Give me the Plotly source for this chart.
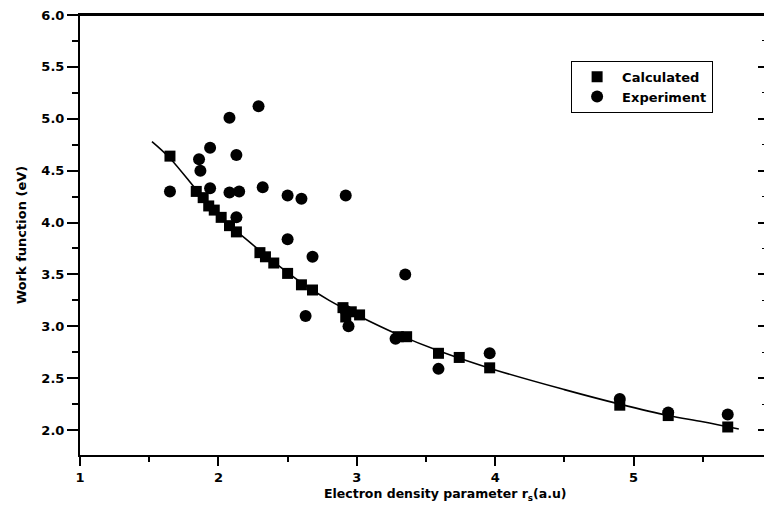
import plotly.graph_objects as go

# Calculated work function (squares)
calc_rs = [1.65, 1.84, 1.89, 1.93, 1.97, 2.02, 2.08, 2.13, 2.30, 2.34, 2.40, 2.50, 2.60,
           2.68, 2.90, 2.92, 2.96, 3.02, 3.30, 3.36, 3.59, 3.74, 3.96, 4.90, 5.25, 5.68]
calc_wf = [4.64, 4.30, 4.24, 4.16, 4.12, 4.05, 3.97, 3.91, 3.71, 3.67, 3.61, 3.51, 3.40,
           3.35, 3.18, 3.09, 3.14, 3.11, 2.90, 2.90, 2.74, 2.70, 2.60, 2.24, 2.14, 2.03]

# Experimental work function (circles)
exp_rs = [1.65, 1.86, 1.87, 1.94, 1.94, 2.08, 2.08, 2.15, 2.13, 2.13, 2.29, 2.32, 2.50,
          2.60, 2.50, 2.68, 2.63, 2.94, 2.92, 2.92, 3.35, 3.28, 3.59, 3.96, 4.90, 5.25, 5.68]
exp_wf = [4.30, 4.61, 4.50, 4.72, 4.33, 5.01, 4.29, 4.30, 4.65, 4.05, 5.12, 4.34, 4.26,
          4.23, 3.84, 3.67, 3.10, 3.00, 3.15, 4.26, 3.50, 2.88, 2.59, 2.74, 2.30, 2.17, 2.15]

# Fitted curve
fit_rs = [1.52, 1.65, 1.85, 2.00, 2.20, 2.40, 2.60, 2.80, 3.00, 3.30, 3.60, 4.00, 4.50,
          4.90, 5.25, 5.50, 5.76]
fit_wf = [4.78, 4.62, 4.30, 4.07, 3.84, 3.62, 3.42, 3.25, 3.11, 2.92, 2.76, 2.58, 2.39,
          2.25, 2.14, 2.08, 2.01]

y_ticks = [2.0, 2.5, 3.0, 3.5, 4.0, 4.5, 5.0, 5.5, 6.0]
y_ticklabels = ["2.0", "2.5", "3.0", "3.5", "4.0", "4.5", "5.0", "5.5", "6.0"]
y_minor = [2.25, 2.75, 3.25, 3.75, 4.25, 4.75, 5.25, 5.75]
x_ticks = [1, 2, 3, 4, 5]
x_ticklabels = ["1", "2", "3", "4", "5"]
x_minor = [1.5, 2.5, 3.5, 4.5, 5.5]

x_title = "Electron density parameter r<sub>s</sub>(a.u)"
y_title = "Work function (eV)"

FONT = "DejaVu Sans, Arial, sans-serif"

fig = go.Figure()
fig.add_trace(go.Scatter(x=fit_rs, y=fit_wf, mode="lines",
                         line=dict(color="black", width=1.6, shape="spline"),
                         showlegend=False, hoverinfo="skip"))
fig.add_trace(go.Scatter(x=calc_rs, y=calc_wf, mode="markers", name="Calculated",
                         marker=dict(symbol="square", size=11, color="black")))
fig.add_trace(go.Scatter(x=exp_rs, y=exp_wf, mode="markers", name="Experiment",
                         marker=dict(symbol="circle", size=12, color="black")))
# empty trace to activate right axis
fig.add_trace(go.Scatter(x=[None], y=[None], yaxis="y2", showlegend=False))

fig.update_layout(
    width=756, height=498,
    margin=dict(l=72, r=0, t=7, b=51, autoexpand=False),
    paper_bgcolor="white", plot_bgcolor="white",
    font=dict(family=FONT, size=13, color="black", weight="bold"),
    showlegend=True,
    legend=dict(x=0.718, y=0.896, xanchor="left", yanchor="top",
                bordercolor="black", borderwidth=1, bgcolor="white",
                font=dict(family=FONT, size=13, color="black", weight="bold"),
                itemwidth=40, tracegroupgap=0),
    xaxis=dict(range=[1, 5.942], showgrid=False, zeroline=False,
               showline=True, linecolor="black", linewidth=2, mirror=True,
               ticks="outside", ticklen=9, tickwidth=2, tickcolor="black",
               tickmode="array", tickvals=x_ticks, ticktext=x_ticklabels,
               minor=dict(tickmode="array", tickvals=x_minor, ticks="outside",
                          ticklen=5, tickwidth=2, tickcolor="black"),
               tickfont=dict(family=FONT, size=13, weight="bold"),
               ticklabeloverflow="allow"),
    yaxis=dict(range=[1.76, 6.0], showgrid=False, zeroline=False,
               showline=True, linecolor="black", linewidth=2,
               ticks="outside", ticklen=11, tickwidth=2, tickcolor="black",
               tickmode="array", tickvals=y_ticks, ticktext=y_ticklabels,
               minor=dict(tickmode="array", tickvals=y_minor,
                          ticks="outside", ticklen=6, tickwidth=2, tickcolor="black"),
               tickfont=dict(family=FONT, size=13, weight="bold"),
               ticklabeloverflow="allow",
               title=dict(text=y_title,
                          font=dict(family=FONT, size=13, weight="bold"), standoff=12)),
    yaxis2=dict(range=[1.76, 6.0], overlaying="y", side="right", showgrid=False, zeroline=False,
                showline=False,
                ticks="inside", ticklen=6, tickwidth=1.5, tickcolor="black",
                tickmode="array", tickvals=y_ticks, showticklabels=False,
                minor=dict(tickmode="array", tickvals=y_minor,
                           ticks="inside", ticklen=2, tickwidth=1, tickcolor="black")),
    shapes=[dict(type="line", xref="paper", yref="paper", x0=-0.016, x1=1, y0=1, y1=1,
                 line=dict(color="black", width=2))],
    annotations=[dict(text=x_title, xref="paper", yref="paper", x=0.535, y=-0.09,
                      xanchor="center", yanchor="middle", showarrow=False,
                      font=dict(family=FONT, size=12.5, weight="bold"))],
)

fig.write_html("out.html")
